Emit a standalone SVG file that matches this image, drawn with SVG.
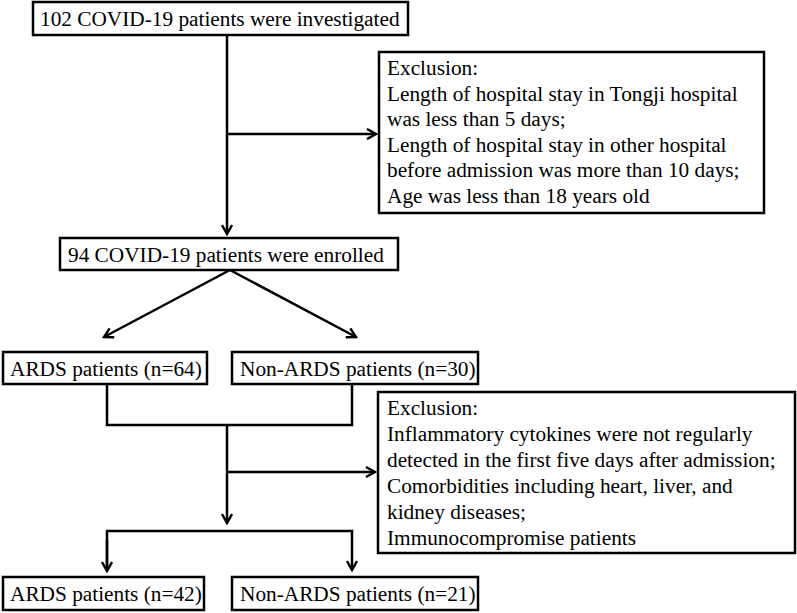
<svg xmlns="http://www.w3.org/2000/svg" width="797" height="613" viewBox="0 0 797 613">
<defs>
<marker id="ah" viewBox="0 0 12 12" refX="10" refY="6" markerWidth="12" markerHeight="12" markerUnits="userSpaceOnUse" orient="auto">
<path d="M1,1 L10,6 L1,11" fill="none" stroke="#000" stroke-width="2.4"/>
</marker>
</defs>
<rect width="797" height="613" fill="#fff"/>
<g id="connectors" fill="none" stroke="#000" stroke-width="2.5">
<line x1="227" y1="35" x2="227" y2="234" marker-end="url(#ah)"/>
<line x1="227" y1="134" x2="376" y2="134" marker-end="url(#ah)"/>
<line x1="230" y1="270" x2="104" y2="337" marker-end="url(#ah)"/>
<line x1="230" y1="270" x2="356" y2="337" marker-end="url(#ah)"/>
<polyline points="107,384 107,425 352,425 352,384"/>
<line x1="227" y1="425" x2="227" y2="523" marker-end="url(#ah)"/>
<line x1="227" y1="472" x2="375" y2="472" marker-end="url(#ah)"/>
<polyline points="107,570 107,531 352,531 352,570" marker-end="url(#ah)"/>
<line x1="107" y1="540" x2="107" y2="571" marker-end="url(#ah)"/>
</g>
<g id="n1"><rect x="33" y="2" width="375" height="33" fill="#fff" stroke="#000" stroke-width="2.5"/><text x="40" y="26" font-family="Liberation Serif" font-size="21.3">102 COVID-19 patients were investigated</text></g>
<g id="ex1"><rect x="379" y="52" width="385" height="161" fill="#fff" stroke="#000" stroke-width="2.5"/>
<text x="387" y="75" font-family="Liberation Serif" font-size="21.3">Exclusion:</text>
<text x="387" y="101" font-family="Liberation Serif" font-size="21.3">Length of hospital stay in Tongji hospital</text>
<text x="387" y="126" font-family="Liberation Serif" font-size="21.3">was less than 5 days;</text>
<text x="387" y="152" font-family="Liberation Serif" font-size="21.3">Length of hospital stay in other hospital</text>
<text x="387" y="177" font-family="Liberation Serif" font-size="21.3">before admission was more than 10 days;</text>
<text x="387" y="203" font-family="Liberation Serif" font-size="21.3">Age was less than 18 years old</text>
</g>
<g id="n2"><rect x="60" y="238" width="338" height="32" fill="#fff" stroke="#000" stroke-width="2.5"/><text x="68" y="262" font-family="Liberation Serif" font-size="21.3">94 COVID-19 patients were enrolled</text></g>
<g id="n3"><rect x="3" y="352" width="204" height="32" fill="#fff" stroke="#000" stroke-width="2.5"/><text x="10" y="376" font-family="Liberation Serif" font-size="21.3">ARDS patients (n=64)</text></g>
<g id="n4"><rect x="232" y="352" width="246" height="32" fill="#fff" stroke="#000" stroke-width="2.5"/><text x="240" y="376" font-family="Liberation Serif" font-size="21.3">Non-ARDS patients (n=30)</text></g>
<g id="ex2"><rect x="378" y="392" width="417" height="161" fill="#fff" stroke="#000" stroke-width="2.5"/>
<text x="387" y="415" font-family="Liberation Serif" font-size="21.3">Exclusion:</text>
<text x="387" y="441" font-family="Liberation Serif" font-size="21.3">Inflammatory cytokines were not regularly</text>
<text x="387" y="467" font-family="Liberation Serif" font-size="21.3">detected in the first five days after admission;</text>
<text x="387" y="493" font-family="Liberation Serif" font-size="21.3">Comorbidities including heart, liver, and</text>
<text x="387" y="519" font-family="Liberation Serif" font-size="21.3">kidney diseases;</text>
<text x="387" y="545" font-family="Liberation Serif" font-size="21.3">Immunocompromise patients</text>
</g>
<g id="n5"><rect x="3" y="577" width="201" height="33" fill="#fff" stroke="#000" stroke-width="2.5"/><text x="10" y="601" font-family="Liberation Serif" font-size="21.3">ARDS patients (n=42)</text></g>
<g id="n6"><rect x="232" y="577" width="246" height="33" fill="#fff" stroke="#000" stroke-width="2.5"/><text x="240" y="601" font-family="Liberation Serif" font-size="21.3">Non-ARDS patients (n=21)</text></g>
</svg>
